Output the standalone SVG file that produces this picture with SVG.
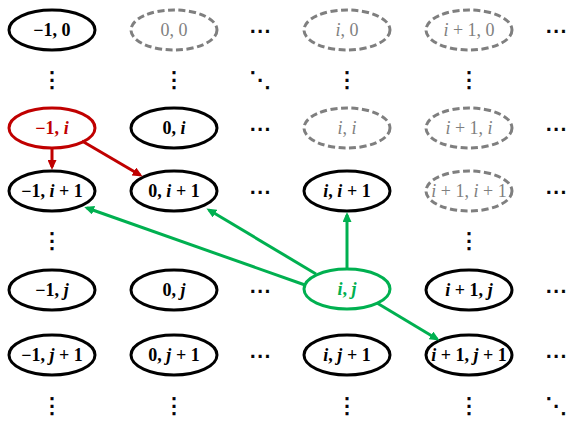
<svg xmlns="http://www.w3.org/2000/svg" width="582" height="428" viewBox="0 0 582 428">
<style>
.n ellipse{fill:#fff;stroke:#000;stroke-width:3}
.g ellipse{fill:#fff;stroke:#7f7f7f;stroke-width:3;stroke-dasharray:7 3.5}
.r ellipse{fill:#fff;stroke:#c00000;stroke-width:3}
.e ellipse{fill:#fff;stroke:#00b050;stroke-width:3}
text{font-family:"Liberation Serif","DejaVu Serif",serif;font-size:18px;text-anchor:middle;dominant-baseline:central}
.n text{font-weight:bold;fill:#000}
.g text{fill:#7f7f7f}
.r text{font-weight:bold;fill:#c00000}
.e text{font-weight:bold;fill:#00b050}
.v{font-style:italic}
.d{font-family:"DejaVu Sans",sans-serif;font-size:22px;font-weight:normal;fill:#000;stroke:#000;stroke-width:0.6}
.cr{stroke:#c00000;stroke-width:3;fill:none}
.cg{stroke:#00b050;stroke-width:3;fill:none}
</style>
<defs>
<marker id="ar" viewBox="0 0 10 9" refX="7" refY="4.5" markerWidth="10" markerHeight="9" markerUnits="userSpaceOnUse" orient="auto"><path d="M0,0 L10,4.5 L0,9 z" fill="#c00000"/></marker>
<marker id="ag" viewBox="0 0 10 9" refX="7" refY="4.5" markerWidth="10" markerHeight="9" markerUnits="userSpaceOnUse" orient="auto"><path d="M0,0 L10,4.5 L0,9 z" fill="#00b050"/></marker>
</defs>

<!-- row 0 -->
<g id="n_m1_0" class="n"><ellipse cx="52" cy="30" rx="43" ry="20"/><text x="52" y="30">−1, 0</text></g>
<g id="n_0_0" class="g"><ellipse cx="174" cy="30" rx="43" ry="20"/><text x="174" y="30">0, 0</text></g>
<g id="n_i_0" class="g"><ellipse cx="347" cy="30" rx="43" ry="20"/><text x="347" y="30"><tspan class="v">i</tspan>, 0</text></g>
<g id="n_i1_0" class="g"><ellipse cx="469" cy="30" rx="43" ry="20"/><text x="469" y="30"><tspan class="v">i</tspan> + 1, 0</text></g>

<!-- row 2 -->
<g id="n_m1_i" class="r"><ellipse cx="52" cy="128" rx="43" ry="20"/><text x="52" y="128">−1, <tspan class="v">i</tspan></text></g>
<g id="n_0_i" class="n"><ellipse cx="174" cy="128" rx="43" ry="20"/><text x="174" y="128">0, <tspan class="v">i</tspan></text></g>
<g id="n_i_i" class="g"><ellipse cx="347" cy="128" rx="43" ry="20"/><text x="347" y="128"><tspan class="v">i</tspan>, <tspan class="v">i</tspan></text></g>
<g id="n_i1_i" class="g"><ellipse cx="469" cy="128" rx="43" ry="20"/><text x="469" y="128"><tspan class="v">i</tspan> + 1, <tspan class="v">i</tspan></text></g>

<!-- row 3 -->
<g id="n_m1_i1" class="n"><ellipse cx="52" cy="191" rx="43" ry="20"/><text x="52" y="191">−1, <tspan class="v">i</tspan> + 1</text></g>
<g id="n_0_i1" class="n"><ellipse cx="174" cy="191" rx="43" ry="20"/><text x="174" y="191">0, <tspan class="v">i</tspan> + 1</text></g>
<g id="n_i_i1" class="n"><ellipse cx="347" cy="191" rx="43" ry="20"/><text x="347" y="191"><tspan class="v">i</tspan>, <tspan class="v">i</tspan> + 1</text></g>
<g id="n_i1_i1" class="g"><ellipse cx="469" cy="191" rx="43" ry="20"/><text x="469" y="191"><tspan class="v">i</tspan> + 1, <tspan class="v">i</tspan> + 1</text></g>

<!-- row 5 -->
<g id="n_m1_j" class="n"><ellipse cx="52" cy="290" rx="43" ry="20"/><text x="52" y="290">−1, <tspan class="v">j</tspan></text></g>
<g id="n_0_j" class="n"><ellipse cx="174" cy="290" rx="43" ry="20"/><text x="174" y="290">0, <tspan class="v">j</tspan></text></g>
<g id="n_i_j" class="e"><ellipse cx="347" cy="289" rx="43" ry="20"/><text x="347" y="289"><tspan class="v">i</tspan>, <tspan class="v">j</tspan></text></g>
<g id="n_i1_j" class="n"><ellipse cx="469" cy="290" rx="43" ry="20"/><text x="469" y="290"><tspan class="v">i</tspan> + 1, <tspan class="v">j</tspan></text></g>

<!-- row 6 -->
<g id="n_m1_j1" class="n"><ellipse cx="52" cy="355" rx="43" ry="20"/><text x="52" y="355">−1, <tspan class="v">j</tspan> + 1</text></g>
<g id="n_0_j1" class="n"><ellipse cx="174" cy="355" rx="43" ry="20"/><text x="174" y="355">0, <tspan class="v">j</tspan> + 1</text></g>
<g id="n_i_j1" class="n"><ellipse cx="347" cy="355" rx="43" ry="20"/><text x="347" y="355"><tspan class="v">i</tspan>, <tspan class="v">j</tspan> + 1</text></g>
<g id="n_i1_j1" class="n"><ellipse cx="469" cy="355" rx="43" ry="20"/><text x="469" y="355"><tspan class="v">i</tspan> + 1, <tspan class="v">j</tspan> + 1</text></g>

<!-- ellipsis marks -->
<g id="dots">
<text class="d" x="260" y="30">⋯</text><text class="d" x="556" y="30">⋯</text>
<text class="d" x="52" y="79">⋮</text><text class="d" x="174" y="79">⋮</text><text class="d" x="260" y="79">⋱</text><text class="d" x="347" y="79">⋮</text><text class="d" x="469" y="79">⋮</text>
<text class="d" x="260" y="128">⋯</text><text class="d" x="556" y="128">⋯</text>
<text class="d" x="260" y="191">⋯</text><text class="d" x="556" y="191">⋯</text>
<text class="d" x="52" y="240">⋮</text><text class="d" x="469" y="240">⋮</text>
<text class="d" x="260" y="290">⋯</text><text class="d" x="556" y="290">⋯</text>
<text class="d" x="260" y="355">⋯</text><text class="d" x="556" y="355">⋯</text>
<text class="d" x="52" y="405">⋮</text><text class="d" x="174" y="405">⋮</text><text class="d" x="347" y="405">⋮</text><text class="d" x="469" y="405">⋮</text><text class="d" x="556" y="405">⋱</text>
</g>

<!-- connectors -->
<g id="connectors">
<line class="cr" x1="52" y1="148" x2="52" y2="167" marker-end="url(#ar)"/>
<line class="cr" x1="82" y1="141" x2="140" y2="175" marker-end="url(#ar)"/>
<line class="cg" x1="305" y1="285" x2="87" y2="208" marker-end="url(#ag)"/>
<line class="cg" x1="316" y1="274" x2="209" y2="210" marker-end="url(#ag)"/>
<line class="cg" x1="347" y1="269" x2="347" y2="215" marker-end="url(#ag)"/>
<line class="cg" x1="377" y1="303" x2="437" y2="339" marker-end="url(#ag)"/>
</g>
</svg>
